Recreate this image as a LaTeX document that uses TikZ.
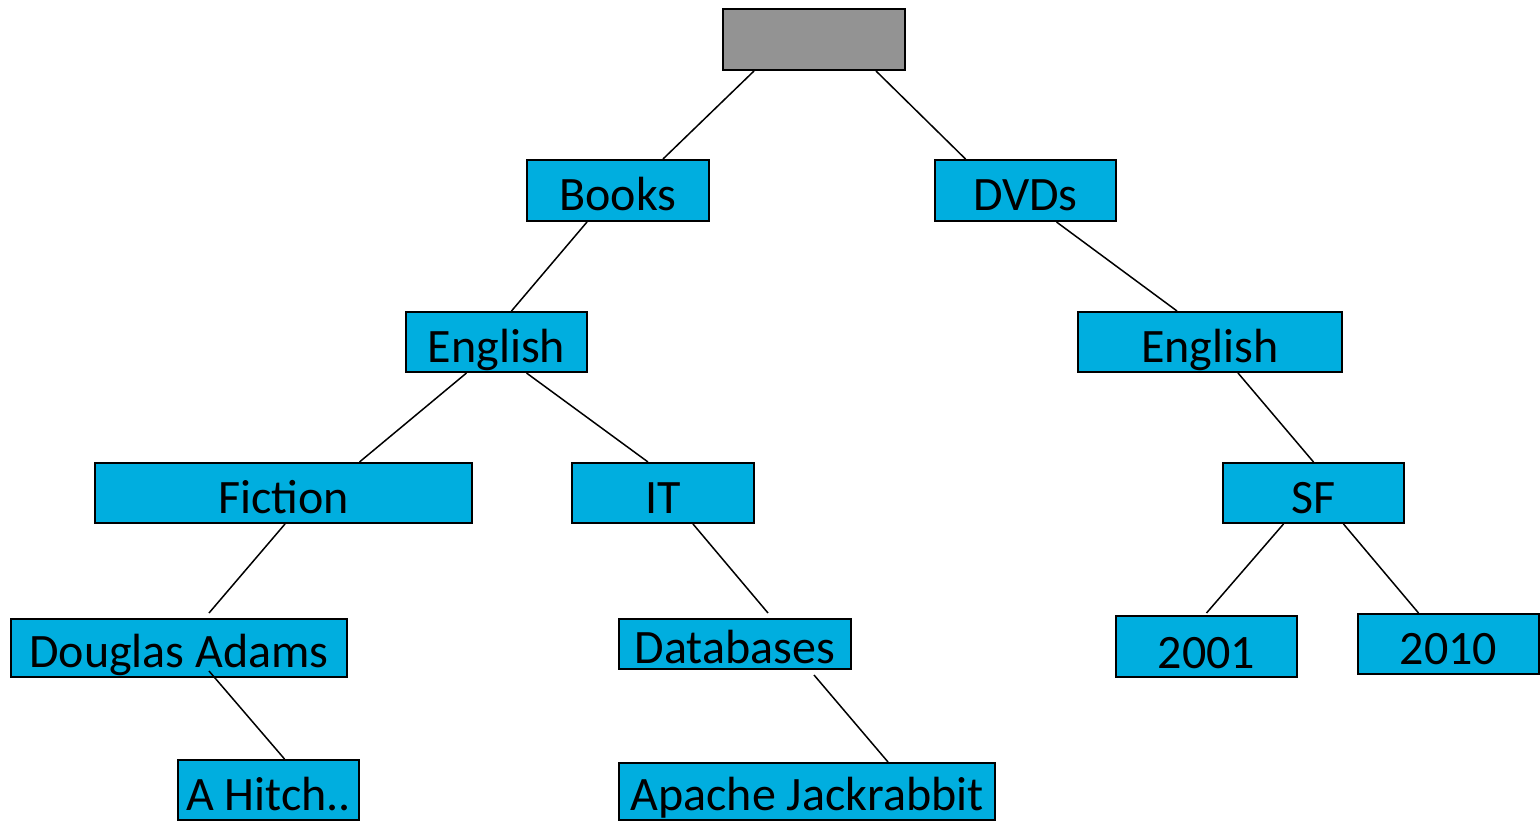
\documentclass[tikz,border=0pt]{standalone}
\usepackage{fontspec}
\setmainfont{Carlito}
\definecolor{boxblue}{HTML}{00AEDF}
\definecolor{rootgray}{HTML}{939393}
\begin{document}
\begin{tikzpicture}[x=1pt,y=-1pt,
  box/.style={draw=black, line width=2pt, fill=boxblue, inner sep=0pt,
    font=\fontsize{48}{56}\selectfont, text height=50pt, text depth=10pt},
  link/.style={draw=black, line width=1.5pt}]
\useasboundingbox (0,0) rectangle (1540,821);

% level 0
\node[box, fill=rootgray, minimum width=182pt, text height=51pt] (root) at (814,39.5) {};
% level 1
\node[box, minimum width=182pt, text height=51pt] (books) at (618,190.5) {Books};
\node[box, minimum width=181pt, text height=51pt] (dvds) at (1025.5,190.5) {DVDs};
% level 2
\node[box, minimum width=181pt] (engL) at (496.5,342) {English};
\node[box, minimum width=264pt] (engR) at (1210,342) {English};
% level 3
\node[box, minimum width=377pt] (fiction) at (283.5,493) {Fiction};
\node[box, minimum width=182pt] (it) at (663,493) {IT};
\node[box, minimum width=181pt] (sf) at (1313.5,493) {SF};
% level 4
\node[box, minimum width=336pt, text height=48pt, text depth=10pt] (douglas) at (179,648) {Douglas Adams};
\node[box, minimum width=232pt, text height=44pt, text depth=6pt] (databases) at (735,644) {Databases};
\node[box, minimum width=181pt, text height=52pt, text depth=9pt] (y2001) at (1206.5,646.5) {2001};
\node[box, minimum width=181pt, text height=50pt, text depth=10pt] (y2010) at (1448.5,644) {2010};
% level 5
\node[box, minimum width=181pt, text height=50pt, text depth=10pt] (hitch) at (268.5,790) {A Hitch..};
\node[box, minimum width=376pt, text height=47pt, text depth=10pt] (apache) at (807,791.5) {Apache Jackrabbit};

% connectors
\draw[link] ([xshift=-60pt]root.south) -- ([xshift=45pt]books.north);
\draw[link] ([xshift=62pt]root.south) -- ([xshift=-60pt]dvds.north);
\draw[link] ([xshift=-31pt]books.south) -- ([xshift=15pt]engL.north);
\draw[link] ([xshift=31pt]dvds.south) -- ([xshift=-33pt]engR.north);
\draw[link] ([xshift=-30pt]engL.south) -- ([xshift=76pt]fiction.north);
\draw[link] ([xshift=30pt]engL.south) -- ([xshift=-15pt]it.north);
\draw[link] ([xshift=28pt]engR.south) -- (sf.north);
\draw[link] ([xshift=1.5pt]fiction.south) -- ([xshift=30pt,yshift=5pt]douglas.north);
\draw[link] ([xshift=30pt,yshift=7pt]douglas.south) -- ([xshift=16pt]hitch.north);
\draw[link] ([xshift=30pt]it.south) -- ([xshift=33pt,yshift=5pt]databases.north);
\draw[link] ([xshift=79pt,yshift=-5pt]databases.south) -- ([xshift=81pt]apache.north);
\draw[link] ([xshift=-30pt]sf.south) -- ([yshift=2pt]y2001.north);
\draw[link] ([xshift=30pt]sf.south) -- ([xshift=-30pt]y2010.north);
\end{tikzpicture}
\end{document}
